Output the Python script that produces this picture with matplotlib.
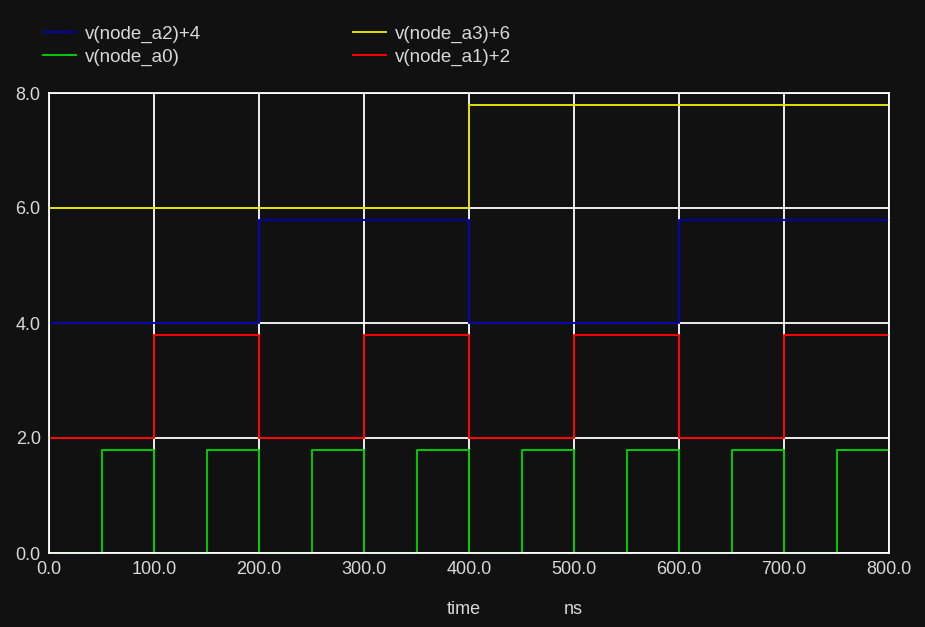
import matplotlib
matplotlib.use("Agg")
import matplotlib.pyplot as plt

# time breakpoints (ns) and step values (held until next breakpoint)
t_a0 = [0, 50, 100, 150, 200, 250, 300, 350, 400, 450, 500, 550, 600, 650, 700, 750, 800]
v_a0 = [0, 1.8, 0, 1.8, 0, 1.8, 0, 1.8, 0, 1.8, 0, 1.8, 0, 1.8, 0, 1.8, 1.8]
t_a1 = [0, 100, 200, 300, 400, 500, 600, 700, 800]
v_a1 = [2, 3.8, 2, 3.8, 2, 3.8, 2, 3.8, 3.8]
t_a2 = [0, 200, 400, 600, 800]
v_a2 = [4, 5.8, 4, 5.8, 5.8]
t_a3 = [0, 400, 800]
v_a3 = [6, 7.8, 7.8]

xticks = [0, 100, 200, 300, 400, 500, 600, 700, 800]
yticks = [0, 2, 4, 6, 8]

BG = "#111111"
TXT = "#d8d8d8"
plt.rcParams['font.family'] = ['Liberation Sans', 'DejaVu Sans']

fig = plt.figure(figsize=(9.25, 6.27), dpi=100, facecolor=BG)
ax = fig.add_axes([49/925, 1-553/627, (889-49)/925, (553-93)/627], facecolor=BG)

ax.set_xlim(0, 800)
ax.set_ylim(0, 8)
ax.set_xticks(xticks)
ax.set_yticks(yticks)
ax.set_xticklabels([f"{v:.1f}" for v in xticks])
ax.set_yticklabels([f"{v:.1f}" for v in yticks])
ax.grid(True, color="white", linewidth=1.3, zorder=0)
ax.set_axisbelow(True)
for s in ax.spines.values():
    s.set_color("white")
    s.set_linewidth(1.3)
ax.tick_params(length=0, colors=TXT, labelsize=13, pad=6)

lw = 1.4
h2, = ax.plot(t_a2, v_a2, drawstyle="steps-post", color="#0000b0", lw=lw, label="v(node_a2)+4")
h0, = ax.plot(t_a0, v_a0, drawstyle="steps-post", color="#00cc00", lw=lw, label="v(node_a0)")
h3, = ax.plot(t_a3, v_a3, drawstyle="steps-post", color="#e0e000", lw=lw, label="v(node_a3)+6")
h1, = ax.plot(t_a1, v_a1, drawstyle="steps-post", color="#ff0000", lw=lw, label="v(node_a1)+2")

leg = fig.legend(handles=[h2, h0, h3, h1], ncol=2, loc="upper left",
                 bbox_to_anchor=(26/925, 1-9/627), frameon=False,
                 fontsize=13.5, handlelength=1.76, handletextpad=0.48,
                 columnspacing=8.1, labelspacing=0.28, labelcolor=TXT)

fig.text(464/925, 1-609/627, "time", color=TXT, fontsize=13, ha="center", va="center")
fig.text(573/925, 1-609/627, "ns", color=TXT, fontsize=13, ha="center", va="center")

fig.savefig("out.png", dpi=100, facecolor=BG)
